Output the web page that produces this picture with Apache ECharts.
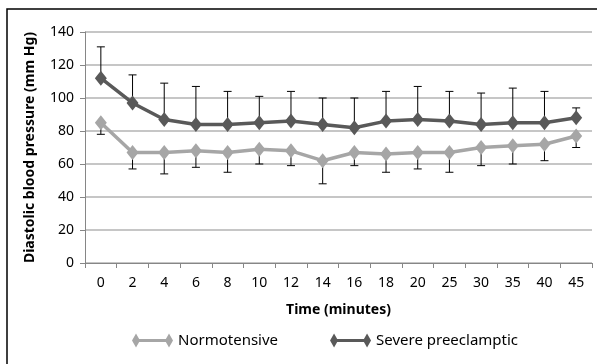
<!DOCTYPE html>
<html>
<head>
<meta charset="utf-8">
<script src="https://cdn.jsdelivr.net/npm/echarts@6/dist/echarts.min.js"></script>
<style>
  html, body { margin: 0; padding: 0; background: #fff; }
  #chart { width: 597px; height: 364px; }
</style>
</head>
<body>
<div id="chart"></div>
<script>
// time points (minutes)
const times = ['0', '2', '4', '6', '8', '10', '12', '14', '16', '18', '20', '25', '30', '35', '40', '45']

// mean diastolic pressure (mm Hg)
const normotensive = [85, 67, 67, 68, 67, 69, 68, 62, 67, 66, 67, 67, 70, 71, 72, 77]
const severe = [112, 97, 87, 84, 84, 85, 86, 84, 82, 86, 87, 86, 84, 85, 85, 88]

// SD shown as one-sided error bars (down for normotensive, up for severe)
const normotensiveSD = [7, 10, 13, 10, 12, 9, 9, 14, 8, 11, 10, 12, 11, 11, 10, 7]
const severeSD = [19, 17, 22, 23, 20, 16, 18, 16, 18, 18, 20, 18, 19, 21, 19, 6]

const yTicks = { min: 0, max: 140, interval: 20 }

const FONT = 'Noto Sans'
const NORMO_COLOR = '#a6a6a6'
const SEVERE_COLOR = '#595959'

// line with a diamond at each end, like the original legend keys
const legendIcon = 'path://M0,7 L4,0 L8,7 L4,14 Z M7,5.6 L34,5.6 L34,8.4 L7,8.4 Z M33,7 L37,0 L41,7 L37,14 Z'

function errorBarItem(params, api) {
  const x = api.value(0)
  const p1 = api.coord([x, api.value(1)])
  const p2 = api.coord([x, api.value(2)])
  const half = 4
  const style = { stroke: '#000', lineWidth: 1 }
  return {
    type: 'group',
    children: [
      { type: 'line', shape: { x1: p1[0], y1: p1[1], x2: p2[0], y2: p2[1] }, style },
      { type: 'line', shape: { x1: p2[0] - half, y1: p2[1], x2: p2[0] + half, y2: p2[1] }, style }
    ]
  }
}

const chart = echarts.init(document.getElementById('chart'))

const option = {
  animation: false,
  textStyle: { fontFamily: FONT },
  graphic: [
    {
      type: 'rect',
      shape: { x: 7, y: 9, width: 620, height: 400 },
      style: { fill: 'none', stroke: '#000', lineWidth: 1.5 },
      silent: true
    }
  ],
  grid: { left: 85, right: 5, top: 32, bottom: 101 },
  legend: {
    bottom: 11,
    left: 127,
    itemGap: 52,
    itemWidth: 41,
    itemHeight: 14,
    textStyle: { fontFamily: FONT, fontSize: 15, color: '#000' },
    data: [
      { name: 'Normotensive', icon: legendIcon },
      { name: 'Severe preeclamptic', icon: legendIcon }
    ]
  },
  xAxis: {
    type: 'category',
    data: times,
    boundaryGap: true,
    name: 'Time (minutes)',
    nameLocation: 'middle',
    nameGap: 40,
    nameTextStyle: { fontFamily: FONT, fontSize: 14, fontWeight: 'bold', color: '#000' },
    axisLine: { lineStyle: { color: '#868686', width: 1 } },
    axisTick: { show: true, length: 5, lineStyle: { color: '#868686' } },
    axisLabel: { fontFamily: FONT, fontSize: 14, color: '#000', margin: 13 },
    splitLine: { show: false }
  },
  yAxis: {
    type: 'value',
    min: yTicks.min,
    max: yTicks.max,
    interval: yTicks.interval,
    name: 'Diastolic blood pressure (mm Hg)',
    nameLocation: 'middle',
    nameGap: 48,
    nameTextStyle: { fontFamily: FONT, fontSize: 14, fontWeight: 'bold', color: '#000' },
    axisLine: { show: true, lineStyle: { color: '#868686', width: 1 } },
    axisTick: { show: true, length: 5, lineStyle: { color: '#868686' } },
    axisLabel: { fontFamily: FONT, fontSize: 14, color: '#000', margin: 11 },
    splitLine: { lineStyle: { color: '#b3b3b3', width: 1.5 } }
  },
  series: [
    {
      name: 'Normotensive',
      type: 'line',
      data: normotensive,
      color: NORMO_COLOR,
      symbol: 'diamond',
      symbolSize: [12, 15],
      lineStyle: { width: 3.5, color: NORMO_COLOR },
      itemStyle: { color: NORMO_COLOR },
      z: 3
    },
    {
      name: 'Severe preeclamptic',
      type: 'line',
      data: severe,
      color: SEVERE_COLOR,
      symbol: 'diamond',
      symbolSize: [12, 15],
      lineStyle: { width: 3.5, color: SEVERE_COLOR },
      itemStyle: { color: SEVERE_COLOR },
      z: 3
    },
    {
      type: 'custom',
      name: 'normoErr',
      renderItem: errorBarItem,
      data: normotensive.map((v, i) => [i, v, v - normotensiveSD[i]]),
      z: 2,
      silent: true
    },
    {
      type: 'custom',
      name: 'severeErr',
      renderItem: errorBarItem,
      data: severe.map((v, i) => [i, v, v + severeSD[i]]),
      z: 2,
      silent: true
    }
  ]
}

chart.setOption(option)
</script>
</body>
</html>
